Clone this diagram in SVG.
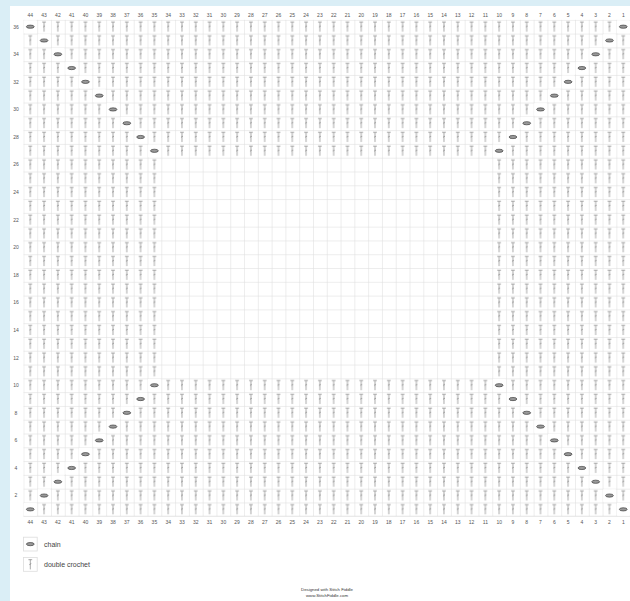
<svg xmlns="http://www.w3.org/2000/svg" xmlns:xlink="http://www.w3.org/1999/xlink" width="630" height="601" viewBox="0 0 630 601">
<style>
.lbl{font-family:"Liberation Sans",Arial,sans-serif;font-size:5px;fill:#555;text-anchor:middle}
.leg{font-family:"Liberation Sans",Arial,sans-serif;font-size:7px;fill:#444}
.foot{font-family:"Liberation Sans",Arial,sans-serif;font-size:4.3px;fill:#333;text-anchor:middle}
.dcs{stroke:#7a7a7a;stroke-width:0.65;fill:none;stroke-linecap:butt}
.gl{stroke:#dddddd;stroke-width:0.8;fill:none}
</style>
<defs>
<g id="dcsym" class="dcs">
<line x1="-1.9" y1="-4.7" x2="1.9" y2="-4.7"/>
<line x1="0" y1="-4.7" x2="0" y2="5"/>
<line x1="-1" y1="0.3" x2="1" y2="-0.9"/>
</g>
<pattern id="dcpat" patternUnits="userSpaceOnUse" x="23.4" y="19.8" width="13.79" height="13.79">
<use xlink:href="#dcsym" href="#dcsym" x="6.895" y="6.895"/>
</pattern>
<pattern id="gridpat" patternUnits="userSpaceOnUse" x="23.4" y="19.8" width="13.79" height="13.79">
<path class="gl" d="M0.2 0V13.79M0 0.2H13.79"/>
</pattern>
<g id="ch">
<rect x="-6.3" y="-6.3" width="12.6" height="12.6" fill="#ffffff"/>
<ellipse cx="0" cy="0" rx="3.9" ry="1.6" fill="#999999" stroke="#333" stroke-width="0.65"/>
</g>
</defs>
<rect x="0" y="0" width="630" height="601" fill="#daeef6"/>
<rect x="10" y="6" width="620" height="595" fill="#ffffff"/>
<g id="grid">
<rect x="23.4" y="19.8" width="606.76" height="496.44" fill="url(#gridpat)"/>
<line class="gl" x1="23.4" y1="516.24" x2="630" y2="516.24"/>
</g>
<g id="stitches">
<rect x="23.4" y="19.8" width="606.76" height="137.9" fill="url(#dcpat)"/>
<rect x="23.4" y="157.7" width="137.9" height="220.64" fill="url(#dcpat)"/>
<rect x="492.26" y="157.7" width="137.9" height="220.64" fill="url(#dcpat)"/>
<rect x="23.4" y="378.34" width="606.76" height="137.9" fill="url(#dcpat)"/>
</g>
<g id="chains">
<use href="#ch" x="30.295" y="26.695"/><use href="#ch" x="623.265" y="26.695"/>
<use href="#ch" x="44.085" y="40.485"/><use href="#ch" x="609.475" y="40.485"/>
<use href="#ch" x="57.875" y="54.275"/><use href="#ch" x="595.685" y="54.275"/>
<use href="#ch" x="71.665" y="68.065"/><use href="#ch" x="581.895" y="68.065"/>
<use href="#ch" x="85.455" y="81.855"/><use href="#ch" x="568.105" y="81.855"/>
<use href="#ch" x="99.245" y="95.645"/><use href="#ch" x="554.315" y="95.645"/>
<use href="#ch" x="113.035" y="109.435"/><use href="#ch" x="540.525" y="109.435"/>
<use href="#ch" x="126.825" y="123.225"/><use href="#ch" x="526.735" y="123.225"/>
<use href="#ch" x="140.615" y="137.015"/><use href="#ch" x="512.945" y="137.015"/>
<use href="#ch" x="154.405" y="150.805"/><use href="#ch" x="499.155" y="150.805"/>
<use href="#ch" x="154.405" y="385.235"/><use href="#ch" x="499.155" y="385.235"/>
<use href="#ch" x="140.615" y="399.025"/><use href="#ch" x="512.945" y="399.025"/>
<use href="#ch" x="126.825" y="412.815"/><use href="#ch" x="526.735" y="412.815"/>
<use href="#ch" x="113.035" y="426.605"/><use href="#ch" x="540.525" y="426.605"/>
<use href="#ch" x="99.245" y="440.395"/><use href="#ch" x="554.315" y="440.395"/>
<use href="#ch" x="85.455" y="454.185"/><use href="#ch" x="568.105" y="454.185"/>
<use href="#ch" x="71.665" y="467.975"/><use href="#ch" x="581.895" y="467.975"/>
<use href="#ch" x="57.875" y="481.765"/><use href="#ch" x="595.685" y="481.765"/>
<use href="#ch" x="44.085" y="495.555"/><use href="#ch" x="609.475" y="495.555"/>
<use href="#ch" x="30.295" y="509.345"/><use href="#ch" x="623.265" y="509.345"/>
</g>
<g id="col-labels-top" class="lbl">
<text x="30.3" y="16.8">44</text><text x="44.1" y="16.8">43</text><text x="57.9" y="16.8">42</text><text x="71.7" y="16.8">41</text><text x="85.5" y="16.8">40</text><text x="99.2" y="16.8">39</text><text x="113" y="16.8">38</text><text x="126.8" y="16.8">37</text><text x="140.6" y="16.8">36</text><text x="154.4" y="16.8">35</text><text x="168.2" y="16.8">34</text><text x="182" y="16.8">33</text><text x="195.8" y="16.8">32</text><text x="209.6" y="16.8">31</text><text x="223.4" y="16.8">30</text><text x="237.1" y="16.8">29</text><text x="250.9" y="16.8">28</text><text x="264.7" y="16.8">27</text><text x="278.5" y="16.8">26</text><text x="292.3" y="16.8">25</text><text x="306.1" y="16.8">24</text><text x="319.9" y="16.8">23</text><text x="333.7" y="16.8">22</text><text x="347.5" y="16.8">21</text><text x="361.3" y="16.8">20</text><text x="375" y="16.8">19</text><text x="388.8" y="16.8">18</text><text x="402.6" y="16.8">17</text><text x="416.4" y="16.8">16</text><text x="430.2" y="16.8">15</text><text x="444" y="16.8">14</text><text x="457.8" y="16.8">13</text><text x="471.6" y="16.8">12</text><text x="485.4" y="16.8">11</text><text x="499.2" y="16.8">10</text><text x="512.9" y="16.8">9</text><text x="526.7" y="16.8">8</text><text x="540.5" y="16.8">7</text><text x="554.3" y="16.8">6</text><text x="568.1" y="16.8">5</text><text x="581.9" y="16.8">4</text><text x="595.7" y="16.8">3</text><text x="609.5" y="16.8">2</text><text x="623.3" y="16.8">1</text>
</g>
<g id="col-labels-bottom" class="lbl">
<text x="30.3" y="523.5">44</text><text x="44.1" y="523.5">43</text><text x="57.9" y="523.5">42</text><text x="71.7" y="523.5">41</text><text x="85.5" y="523.5">40</text><text x="99.2" y="523.5">39</text><text x="113" y="523.5">38</text><text x="126.8" y="523.5">37</text><text x="140.6" y="523.5">36</text><text x="154.4" y="523.5">35</text><text x="168.2" y="523.5">34</text><text x="182" y="523.5">33</text><text x="195.8" y="523.5">32</text><text x="209.6" y="523.5">31</text><text x="223.4" y="523.5">30</text><text x="237.1" y="523.5">29</text><text x="250.9" y="523.5">28</text><text x="264.7" y="523.5">27</text><text x="278.5" y="523.5">26</text><text x="292.3" y="523.5">25</text><text x="306.1" y="523.5">24</text><text x="319.9" y="523.5">23</text><text x="333.7" y="523.5">22</text><text x="347.5" y="523.5">21</text><text x="361.3" y="523.5">20</text><text x="375" y="523.5">19</text><text x="388.8" y="523.5">18</text><text x="402.6" y="523.5">17</text><text x="416.4" y="523.5">16</text><text x="430.2" y="523.5">15</text><text x="444" y="523.5">14</text><text x="457.8" y="523.5">13</text><text x="471.6" y="523.5">12</text><text x="485.4" y="523.5">11</text><text x="499.2" y="523.5">10</text><text x="512.9" y="523.5">9</text><text x="526.7" y="523.5">8</text><text x="540.5" y="523.5">7</text><text x="554.3" y="523.5">6</text><text x="568.1" y="523.5">5</text><text x="581.9" y="523.5">4</text><text x="595.7" y="523.5">3</text><text x="609.5" y="523.5">2</text><text x="623.3" y="523.5">1</text>
</g>
<g id="row-labels" class="lbl">
<text x="16" y="28.5">36</text><text x="16" y="56.1">34</text><text x="16" y="83.7">32</text><text x="16" y="111.2">30</text><text x="16" y="138.8">28</text><text x="16" y="166.4">26</text><text x="16" y="194">24</text><text x="16" y="221.6">22</text><text x="16" y="249.1">20</text><text x="16" y="276.7">18</text><text x="16" y="304.3">16</text><text x="16" y="331.9">14</text><text x="16" y="359.5">12</text><text x="16" y="387">10</text><text x="16" y="414.6">8</text><text x="16" y="442.2">6</text><text x="16" y="469.8">4</text><text x="16" y="497.4">2</text>
</g>
<g id="legend-chain">
<rect x="23.4" y="537.2" width="13.8" height="13.8" fill="#fff" stroke="#dddddd" stroke-width="0.8"/>
<ellipse cx="30.3" cy="544.1" rx="3.9" ry="1.6" fill="#999999" stroke="#333" stroke-width="0.65"/>
<text class="leg" x="44" y="546.6">chain</text>
</g>
<g id="legend-dc">
<rect x="23.4" y="557.5" width="13.8" height="13.8" fill="#fff" stroke="#dddddd" stroke-width="0.8"/>
<use href="#dcsym" x="30.3" y="564.4"/>
<text class="leg" x="44" y="566.9">double crochet</text>
</g>
<g id="footer">
<text class="foot" x="327" y="591.3">Designed with Stitch Fiddle</text>
<text class="foot" x="327" y="596.5">www.StitchFiddle.com</text>
</g>
</svg>
